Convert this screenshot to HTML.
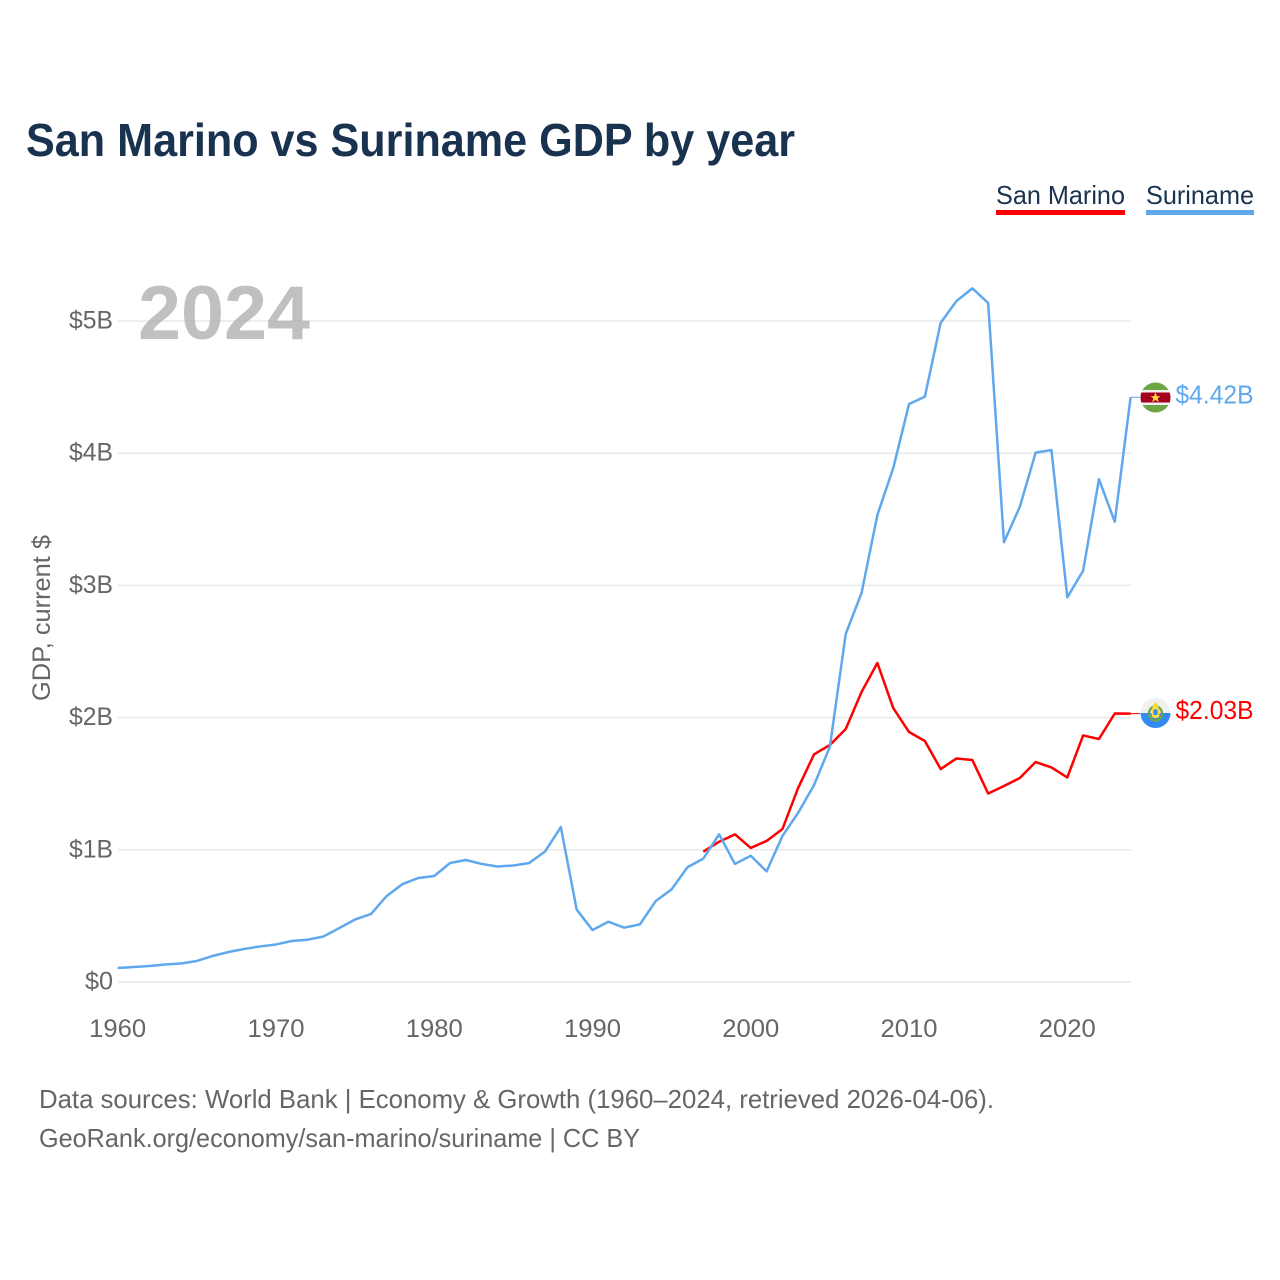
<!DOCTYPE html>
<html lang="en">
<head>
<meta charset="utf-8">
<title>San Marino vs Suriname GDP by year</title>
<style>
html,body{margin:0;padding:0;background:#fff;width:1280px;height:1280px;overflow:hidden}
svg{display:block}
text{font-family:"Liberation Sans",sans-serif}
</style>
</head>
<body>
<svg id="chart" xmlns="http://www.w3.org/2000/svg" width="1280" height="1280" viewBox="0 0 1280 1280">
  <defs>
    <clipPath id="clip-sr"><circle cx="1155.5" cy="397.5" r="15"/></clipPath>
    <clipPath id="clip-sm"><circle cx="1155.5" cy="713" r="15"/></clipPath>
  </defs>
  <rect x="0" y="0" width="1280" height="1280" fill="#fff"/>
  <text x="26" y="156" font-size="46" font-weight="700" fill="#18324f" textLength="769" lengthAdjust="spacingAndGlyphs">San Marino vs Suriname GDP by year</text>

  <g style="cursor:pointer">
    <text x="996" y="204" font-size="26" fill="#18324f" textLength="129" lengthAdjust="spacingAndGlyphs">San Marino</text>
    <rect x="996" y="210" width="129" height="5" fill="#ff0000"/>
  </g>
  <g style="cursor:pointer">
    <text x="1146" y="204" font-size="26" fill="#18324f" textLength="108" lengthAdjust="spacingAndGlyphs">Suriname</text>
    <rect x="1146" y="210" width="108" height="5" fill="#5fa8ee"/>
  </g>

  <text transform="translate(50 618) rotate(-90)" text-anchor="middle" font-size="25" fill="#666" textLength="166" lengthAdjust="spacingAndGlyphs">GDP, current $</text>

  <g id="grid"></g>
  <g id="y-ticks"></g>
  <g id="x-ticks"></g>

  <text x="138" y="339" font-size="76" font-weight="700" fill="#a8a8a8" fill-opacity="0.72" textLength="172" lengthAdjust="spacingAndGlyphs">2024</text>

  <g id="series"></g>

  <g clip-path="url(#clip-sr)">
    <rect x="1140" y="382" width="31" height="31" fill="#6da544"/>
    <rect x="1140" y="390" width="31" height="15" fill="#f0f0f0"/>
    <rect x="1140" y="392.5" width="31" height="10" fill="#a2001d"/>
    <polygon points="1155.5,392.5 1157,396.2 1160.5,396.2 1157.7,398.4 1158.7,402 1155.5,399.9 1152.3,402 1153.3,398.4 1150.5,396.2 1154,396.2" fill="#ffda44"/>
  </g>
  <g clip-path="url(#clip-sm)">
    <rect x="1140" y="698" width="31" height="15" fill="#f0f0f0"/>
    <rect x="1140" y="713" width="31" height="15" fill="#338af3"/>
    <ellipse cx="1155.5" cy="713.5" rx="6.5" ry="7" fill="none" stroke="#6da544" stroke-width="2.4"/>
    <rect x="1151.5" y="707" width="8" height="11" rx="3" fill="#ffda44"/>
    <rect x="1153.5" y="709.5" width="4" height="5.5" fill="#338af3"/>
    <polygon points="1155.5,701.5 1158,705 1158.5,708 1152.5,708 1153,705" fill="#ffda44"/>
  </g>

  <text id="label-sr" x="1175.5" y="403.5" font-size="26" fill="#5fa8ee" textLength="78" lengthAdjust="spacingAndGlyphs">$4.42B</text>
  <text id="label-sm" x="1175.5" y="719" font-size="26" fill="#ff0000" textLength="78" lengthAdjust="spacingAndGlyphs">$2.03B</text>

  <text x="39" y="1108" font-size="26" fill="#666" textLength="955" lengthAdjust="spacingAndGlyphs">Data sources: World Bank | Economy &amp; Growth (1960–2024, retrieved 2026-04-06).</text>
  <text x="39" y="1147" font-size="26" fill="#666" textLength="601" lengthAdjust="spacingAndGlyphs">GeoRank.org/economy/san-marino/suriname | CC BY</text>
</svg>
<script>
const yTickValues = [0, 1, 2, 3, 4, 5];
const yTickLabels = ["$0", "$1B", "$2B", "$3B", "$4B", "$5B"];
const xTickValues = [1960, 1970, 1980, 1990, 2000, 2010, 2020];
const surinameStart = 1960;
const surinameGdp = [0.106,0.113,0.121,0.132,0.140,0.159,0.197,0.227,0.250,0.269,0.284,0.310,0.320,0.344,0.408,0.473,0.514,0.651,0.741,0.787,0.802,0.900,0.923,0.893,0.874,0.881,0.900,0.987,1.172,0.548,0.393,0.456,0.411,0.436,0.613,0.701,0.868,0.933,1.117,0.893,0.955,0.837,1.104,1.281,1.490,1.780,2.632,2.943,3.533,3.886,4.372,4.427,4.987,5.151,5.247,5.136,3.326,3.595,4.004,4.024,2.910,3.111,3.803,3.482,4.423];
const sanMarinoStart = 1997;
const sanMarinoGdp = [0.986,1.061,1.117,1.014,1.067,1.157,1.470,1.722,1.793,1.914,2.194,2.413,2.073,1.891,1.823,1.611,1.691,1.679,1.426,1.483,1.543,1.664,1.623,1.547,1.865,1.838,2.031,2.030];

const SVG_NS = "http://www.w3.org/2000/svg";
const xScale = year => 117.7 + (year - 1960) * (1130.6 - 117.7) / 64;
const yScale = value => 982 - value * 132.2;

const gridGroup = document.getElementById("grid");
const yTickGroup = document.getElementById("y-ticks");
const xTickGroup = document.getElementById("x-ticks");
const seriesGroup = document.getElementById("series");

yTickValues.forEach((value, i) => {
  const line = document.createElementNS(SVG_NS, "line");
  
  
  line.setAttribute("x1", 118);
  line.setAttribute("x2", 1131);
  line.setAttribute("y1", yScale(value));
  line.setAttribute("y2", yScale(value));
  line.setAttribute("stroke", "#e9e9e9");
  line.setAttribute("stroke-width", "1.5");
  gridGroup.appendChild(line);

  const label = document.createElementNS(SVG_NS, "text");
  
  
  label.setAttribute("x", 113);
  label.setAttribute("y", yScale(value) + 7.5);
  label.setAttribute("text-anchor", "end");
  label.setAttribute("font-size", "25");
  label.setAttribute("fill", "#666");
  label.textContent = yTickLabels[i];
  label.setAttribute("textLength", i === 0 ? 28 : 44);
  label.setAttribute("lengthAdjust", "spacingAndGlyphs");
  yTickGroup.appendChild(label);
});

xTickValues.forEach(year => {
  const label = document.createElementNS(SVG_NS, "text");
  
  
  label.setAttribute("x", xScale(year));
  label.setAttribute("y", 1037);
  label.setAttribute("text-anchor", "middle");
  label.setAttribute("font-size", "25");
  label.setAttribute("fill", "#666");
  label.setAttribute("textLength", 57);
  label.setAttribute("lengthAdjust", "spacingAndGlyphs");
  label.textContent = year;
  xTickGroup.appendChild(label);
});

function linePoints(start, values) {
  return values.map((v, i) => xScale(start + i).toFixed(2) + "," + yScale(v).toFixed(2));
}

const sanMarinoLine = document.createElementNS(SVG_NS, "polyline");


sanMarinoLine.setAttribute("points", linePoints(sanMarinoStart, sanMarinoGdp).join(" "));
sanMarinoLine.setAttribute("fill", "none");
sanMarinoLine.setAttribute("stroke", "#ff0000");
sanMarinoLine.setAttribute("stroke-width", "2.5");
sanMarinoLine.setAttribute("stroke-linejoin", "round");
seriesGroup.appendChild(sanMarinoLine);

const surinameLine = document.createElementNS(SVG_NS, "polyline");


surinameLine.setAttribute("points", linePoints(surinameStart, surinameGdp).join(" "));
surinameLine.setAttribute("fill", "none");
surinameLine.setAttribute("stroke", "#5fa8ee");
surinameLine.setAttribute("stroke-width", "2.5");
surinameLine.setAttribute("stroke-linejoin", "round");
seriesGroup.appendChild(surinameLine);

const surinameConnector = document.createElementNS(SVG_NS, "line");


surinameConnector.setAttribute("x1", xScale(2024));
surinameConnector.setAttribute("x2", 1140);
surinameConnector.setAttribute("y1", yScale(surinameGdp[surinameGdp.length - 1]));
surinameConnector.setAttribute("y2", yScale(surinameGdp[surinameGdp.length - 1]));
surinameConnector.setAttribute("stroke", "#5fa8ee");
surinameConnector.setAttribute("stroke-width", "1");
seriesGroup.appendChild(surinameConnector);

const sanMarinoConnector = document.createElementNS(SVG_NS, "line");


sanMarinoConnector.setAttribute("x1", xScale(2024));
sanMarinoConnector.setAttribute("x2", 1140);
sanMarinoConnector.setAttribute("y1", yScale(sanMarinoGdp[sanMarinoGdp.length - 1]));
sanMarinoConnector.setAttribute("y2", yScale(sanMarinoGdp[sanMarinoGdp.length - 1]));
sanMarinoConnector.setAttribute("stroke", "#ff0000");
sanMarinoConnector.setAttribute("stroke-width", "1");
seriesGroup.appendChild(sanMarinoConnector);
</script>
</body>
</html>
